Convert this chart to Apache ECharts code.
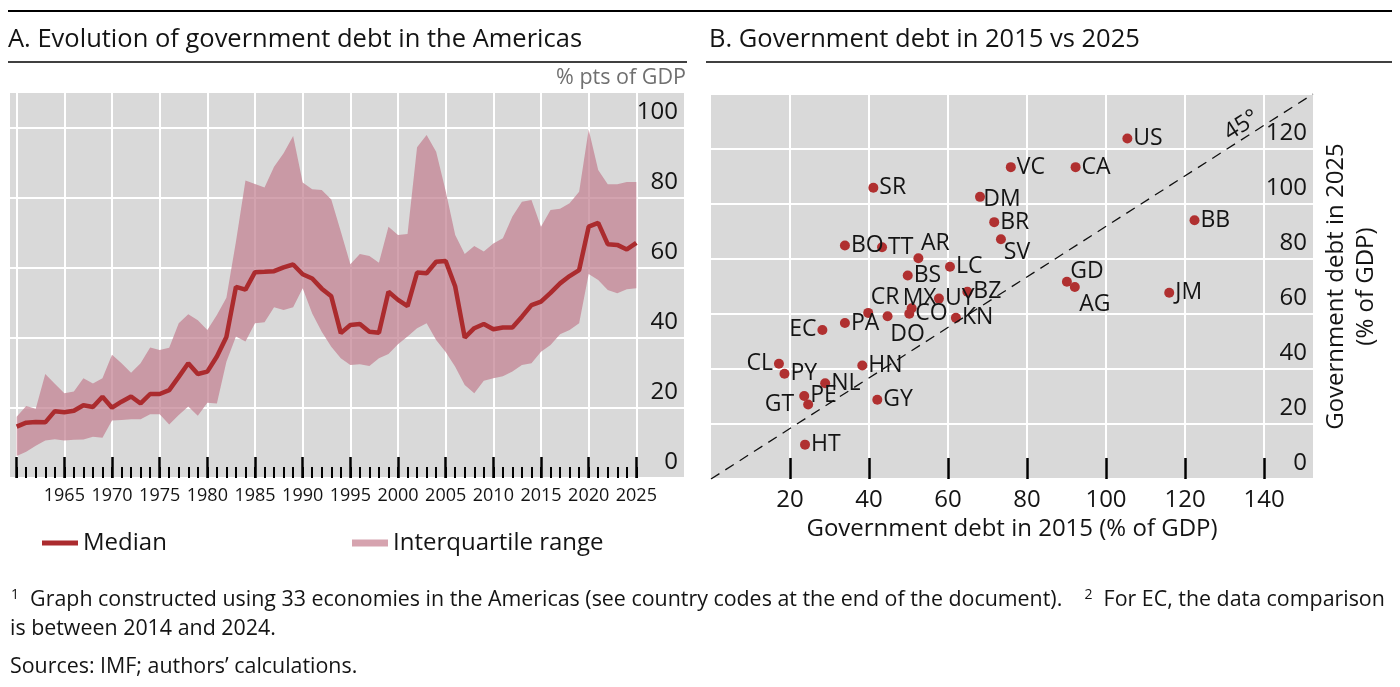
<!DOCTYPE html>
<html>
<head>
<meta charset="utf-8">
<title>Government debt in the Americas</title>
<script src="https://cdn.jsdelivr.net/npm/echarts@6.0.0/dist/echarts.min.js"></script>
<style>
    html, body { margin: 0; padding: 0; background: #fff; }
    #chart { width: 1400px; height: 687px; }
</style>
</head>
<body>
<div id="chart"></div>
<script>
// Panel A: yearly median and interquartile range, % of GDP
const years = [
    1960, 1961, 1962, 1963, 1964, 1965, 1966, 1967, 1968, 1969,
    1970, 1971, 1972, 1973, 1974, 1975, 1976, 1977, 1978, 1979,
    1980, 1981, 1982, 1983, 1984, 1985, 1986, 1987, 1988, 1989,
    1990, 1991, 1992, 1993, 1994, 1995, 1996, 1997, 1998, 1999,
    2000, 2001, 2002, 2003, 2004, 2005, 2006, 2007, 2008, 2009,
    2010, 2011, 2012, 2013, 2014, 2015, 2016, 2017, 2018, 2019,
    2020, 2021, 2022, 2023, 2024, 2025
];
const median = [
    14.7, 15.8, 16.0, 15.9, 19.1, 18.8, 19.2, 20.8, 20.3, 23.2,
    20.1, 21.8, 23.3, 21.3, 24.0, 24.0, 25.1, 28.9, 32.8, 29.7,
    30.4, 34.7, 40.3, 54.6, 53.8, 58.8, 58.9, 59.1, 60.2, 61.0,
    58.2, 57.0, 54.1, 51.9, 41.4, 43.7, 44.0, 41.8, 41.5, 53.2,
    50.9, 49.1, 58.7, 58.5, 61.8, 62.0, 54.7, 40.1, 42.8, 44.0,
    42.5, 43.0, 43.0, 46.1, 49.4, 50.4, 52.9, 55.6, 57.7, 59.4,
    71.8, 72.9, 66.8, 66.6, 65.3, 67.2
];
const upperQuartile = [
    17.5, 20.6, 19.8, 29.7, 26.9, 24.2, 24.7, 28.5, 27.0, 28.5,
    35.2, 32.8, 30.1, 32.8, 37.3, 36.6, 37.2, 44.2, 46.8, 45.1,
    42.3, 46.6, 51.5, 67.5, 85.0, 84.0, 83.0, 88.9, 92.8, 97.7,
    84.4, 82.5, 82.3, 79.6, 70.4, 61.1, 64.0, 63.4, 61.5, 71.8,
    69.4, 69.7, 94.5, 98.0, 93.2, 82.0, 69.4, 64.0, 66.3, 64.7,
    67.0, 68.5, 74.7, 78.9, 79.4, 71.8, 76.6, 76.9, 78.5, 81.8,
    99.6, 88.0, 83.9, 83.9, 84.6, 84.6
];
const lowerQuartile = [
    6.3, 7.5, 9.2, 10.7, 11.1, 10.7, 10.9, 11.0, 11.8, 11.5,
    16.4, 16.6, 16.8, 16.8, 18.2, 18.2, 15.3, 18.0, 20.4, 17.8,
    21.5, 21.3, 33.2, 40.4, 39.0, 44.2, 44.5, 48.8, 48.0, 48.8,
    54.2, 47.0, 41.8, 37.5, 34.2, 32.3, 32.5, 32.0, 34.2, 35.4,
    38.2, 40.4, 42.8, 44.2, 39.4, 36.0, 31.8, 26.6, 24.2, 27.8,
    28.5, 29.1, 30.4, 32.3, 32.8, 36.1, 38.0, 41.1, 42.3, 44.2,
    58.3, 56.6, 53.7, 52.8, 53.9, 54.2
];
const yearTicks = [1960, 1965, 1970, 1975, 1980, 1985, 1990, 1995, 2000, 2005, 2010, 2015, 2020, 2025];
const yearLabels = [1965, 1970, 1975, 1980, 1985, 1990, 1995, 2000, 2005, 2010, 2015, 2020, 2025];
const levelTicks = [0, 20, 40, 60, 80, 100];

// Panel B: government debt in 2015 vs 2025, % of GDP
const countries = [
    'VC', 'SR', 'DM', 'BR', 'SV', 'BO', 'TT', 'AR', 'LC', 'BS', 'BZ',
    'UY', 'MX', 'CO', 'CR', 'DO', 'KN', 'PA', 'EC', 'CL', 'HN', 'PY',
    'NL', 'PE', 'GY', 'GT', 'HT', 'US', 'CA', 'BB', 'GD', 'AG', 'JM'
];
const debt2015 = [
    75.9, 41.1, 68.1, 71.7, 73.4, 33.9, 43.3, 52.5, 60.5, 49.8, 64.9,
    57.7, 50.8, 50.2, 39.8, 44.7, 62.0, 33.9, 28.2, 17.2, 38.3, 18.6,
    28.9, 23.6, 42.1, 24.6, 23.8, 105.4, 92.3, 122.4, 90.1, 92.1, 116.0
];
const debt2025 = [
    113.4, 105.9, 102.6, 93.4, 87.2, 84.9, 84.3, 80.3, 77.2, 74.0, 68.1,
    65.6, 62.1, 60.1, 60.4, 59.2, 58.6, 56.7, 54.2, 41.9, 41.3, 38.3,
    34.8, 30.2, 28.8, 27.1, 12.5, 123.8, 113.4, 94.1, 71.7, 69.8, 67.7
];
const debtTicks = [20, 40, 60, 80, 100, 120, 140];
const diagonal = [[0, 0], [152.4, 140]];

// label placement for crowded points (others sit to the right)
const labelPlacement = {
    EC: { position: 'left', distance: 1 },
    CL: { position: 'left', distance: 1 },
    GT: { position: 'left', distance: 9 },
    AR: { position: 'inside', offset: [17, -15] },
    CR: { position: 'inside', offset: [17, -15] },
    MX: { position: 'inside', offset: [8, -10] },
    DO: { position: 'inside', offset: [20, 18] },
    SV: { position: 'inside', offset: [16, 13] },
    GD: { position: 'inside', offset: [20, -10] },
    AG: { position: 'inside', offset: [20, 17] },
    DM: { position: 'inside', offset: [22, 3] }
};

const font = 'Open Sans';
const ink = '#141414';
const red = '#ab2b2e';
const band = 'rgba(194, 128, 144, 0.72)';
const gray = '#d9d9d9';

window.onload = function () {
    const canvas = document.getElementById('chart');
    const myChart = echarts.init(canvas);

    const points = countries.map((code, i) => {
        const item = { name: code, value: [debt2015[i], debt2025[i]] };
        if (labelPlacement[code]) {
            item.label = labelPlacement[code];
        }
        return item;
    });

    const yLabel = {
        inside: true,
        margin: 6,
        fontSize: 24,
        fontFamily: font,
        color: ink,
        verticalAlign: 'bottom',
        lineHeight: 32
    };
    const axisName = { fontSize: 24, fontFamily: font, color: ink };

    const option = {
        animation: false,
        textStyle: { fontFamily: font },
        grid: [
            { left: 10, top: 93, width: 674, height: 385, show: true, backgroundColor: gray, borderWidth: 0 },
            { left: 711, top: 94, width: 602, height: 385, show: true, backgroundColor: gray, borderWidth: 0 }
        ],
        legend: [
            {
                left: 42, top: 531, padding: 0,
                data: [{ name: 'Median', itemStyle: { color: red } }],
                icon: 'rect', itemWidth: 36, itemHeight: 5,
                textStyle: { fontSize: 24, fontFamily: font, color: ink }
            },
            {
                left: 352, top: 531, padding: 0,
                data: [{ name: 'Interquartile range', itemStyle: { color: '#d6a3af' } }],
                icon: 'rect', itemWidth: 36, itemHeight: 7,
                textStyle: { fontSize: 24, fontFamily: font, color: ink }
            }
        ],
        xAxis: [
            {
                // yearly small ticks
                gridIndex: 0, type: 'value', position: 'bottom', min: 1959.3, max: 2030,
                axisLine: { show: false },
                axisTick: { inside: true, length: 11, customValues: years, lineStyle: { color: '#000', width: 2 } },
                axisLabel: { show: false },
                splitLine: { show: false }
            },
            {
                gridIndex: 0, type: 'value', position: 'bottom', min: 1959.3, max: 2030,
                axisLine: { show: false },
                axisTick: { inside: true, length: 21, customValues: yearTicks, lineStyle: { color: '#000', width: 2.5 } },
                axisLabel: {
                    customValues: yearLabels, showMinLabel: true, showMaxLabel: true,
                    formatter: v => String(v),
                    margin: 9, fontSize: 18, fontFamily: font, color: ink
                },
                splitLine: { show: true, lineStyle: { color: '#fff', width: 2 } }
            },
            {
                gridIndex: 1, type: 'value', position: 'bottom', min: 0, max: diagonal[1][0],
                axisLine: { show: false },
                axisTick: { inside: true, length: 21, customValues: debtTicks, lineStyle: { color: '#000', width: 2.5 } },
                axisLabel: {
                    customValues: debtTicks, showMinLabel: true, showMaxLabel: true,
                    margin: 9, fontSize: 24, fontFamily: font, color: ink
                },
                splitLine: { show: true, lineStyle: { color: '#fff', width: 2 } },
                name: 'Government debt in 2015 (% of GDP)',
                nameLocation: 'middle', nameGap: 35,
                nameTextStyle: axisName
            }
        ],
        yAxis: [
            {
                gridIndex: 0, type: 'value', position: 'right', min: 0, max: 110,
                axisLine: { show: false },
                axisTick: { show: false, customValues: levelTicks },
                axisLabel: Object.assign({ customValues: levelTicks, showMinLabel: true, showMaxLabel: true }, yLabel),
                splitLine: { show: true, lineStyle: { color: '#fff', width: 2 } }
            },
            {
                gridIndex: 1, type: 'value', position: 'right', min: 0, max: 140, interval: 20,
                axisLine: { show: false },
                axisTick: { show: false },
                axisLabel: Object.assign({ showMinLabel: true, showMaxLabel: false }, yLabel),
                splitLine: { show: true, lineStyle: { color: '#fff', width: 2 } },
                name: 'Government debt in 2025\n(% of GDP)',
                nameLocation: 'middle', nameRotate: 90, nameGap: 8,
                nameTextStyle: Object.assign({ lineHeight: 30, align: 'center', verticalAlign: 'top' }, axisName)
            }
        ],
        series: [
            {
                // band between the quartiles, drawn once as a single polygon
                name: 'Interquartile range', type: 'custom', xAxisIndex: 1, yAxisIndex: 0,
                data: years.map((y, i) => [y, lowerQuartile[i], upperQuartile[i]]),
                encode: { x: 0, y: [1, 2] },
                silent: true,
                itemStyle: { color: band },
                renderItem: function (params, api) {
                    if (params.dataIndex !== 0) {
                        return null;
                    }
                    const top = years.map((y, i) => api.coord([y, upperQuartile[i]]));
                    const bottom = years.map((y, i) => api.coord([y, lowerQuartile[i]])).reverse();
                    return {
                        type: 'polygon',
                        shape: { points: top.concat(bottom) },
                        style: { fill: band }
                    };
                }
            },
            {
                name: 'Median', type: 'line', xAxisIndex: 1, yAxisIndex: 0,
                data: years.map((y, i) => [y, median[i]]),
                symbol: 'none', itemStyle: { color: red },
                lineStyle: { color: red, width: 4.5 }
            },
            {
                name: '45 degree', type: 'line', xAxisIndex: 2, yAxisIndex: 1,
                data: diagonal, symbol: 'none', silent: true,
                lineStyle: { color: '#111', width: 1.3, type: [10, 7] }
            },
            {
                name: 'Economies', type: 'scatter', xAxisIndex: 2, yAxisIndex: 1,
                data: points, symbolSize: 10,
                itemStyle: { color: '#b03030', opacity: 1 },
                label: {
                    show: true, position: 'right', distance: 1,
                    formatter: '{b}', fontSize: 23, fontFamily: font, color: ink
                }
            }
        ]
    };

    myChart.setOption(option);

    // 45° label sits just above the diagonal, rotated with it
    const p0 = myChart.convertToPixel({ gridIndex: 1 }, diagonal[0]);
    const p1 = myChart.convertToPixel({ gridIndex: 1 }, diagonal[1]);
    const angle = Math.atan2(p0[1] - p1[1], p1[0] - p0[0]);
    const t = 0.892;
    const lx = p0[0] + (p1[0] - p0[0]) * t - 12 * Math.sin(angle);
    const ly = p0[1] + (p1[1] - p0[1]) * t - 12 * Math.cos(angle);

    const note = '21.4px "Open Sans"';
    const sup = { fontSize: 14, fontFamily: font, verticalAlign: 'top', padding: [0, 0, 10, 0], fill: ink };

    myChart.setOption({
        graphic: [
            { type: 'line', shape: { x1: 8, y1: 11, x2: 1392, y2: 11 }, style: { stroke: '#000', lineWidth: 2 } },
            { type: 'line', shape: { x1: 8, y1: 62, x2: 687, y2: 62 }, style: { stroke: '#000', lineWidth: 1.5 } },
            { type: 'line', shape: { x1: 706, y1: 62, x2: 1392, y2: 62 }, style: { stroke: '#000', lineWidth: 1.5 } },
            {
                type: 'text', x: 8, y: 40,
                style: { text: 'A. Evolution of government debt in the Americas', font: '25.5px "Open Sans"', fill: ink, verticalAlign: 'middle' }
            },
            {
                type: 'text', x: 709, y: 40,
                style: { text: 'B. Government debt in 2015 vs 2025', font: '25.5px "Open Sans"', fill: ink, verticalAlign: 'middle' }
            },
            {
                type: 'text', x: 686, y: 78,
                style: { text: '% pts of GDP', font: '21.5px "Open Sans"', fill: '#707070', align: 'right', verticalAlign: 'middle' }
            },
            {
                type: 'text', x: lx, y: ly, rotation: angle,
                style: { text: '45°', font: '23px "Open Sans"', fill: ink, align: 'center', verticalAlign: 'middle' }
            },
            {
                type: 'text', x: 11, y: 600,
                style: {
                    text: '{s|1}  Graph constructed using 33 economies in the Americas (see country codes at the end of the document).    {s|2}  For EC, the data comparison',
                    font: note, fill: ink, verticalAlign: 'middle',
                    rich: { s: sup }
                }
            },
            {
                type: 'text', x: 10, y: 629,
                style: { text: 'is between 2014 and 2024.', font: note, fill: ink, verticalAlign: 'middle' }
            },
            {
                type: 'text', x: 10, y: 667,
                style: { text: 'Sources: IMF; authors’ calculations.', font: note, fill: ink, verticalAlign: 'middle' }
            }
        ]
    });

    window.onresize = function () {
        setTimeout(function () {
            myChart.resize();
        }, 200);
    };
};
</script>
</body>
</html>
